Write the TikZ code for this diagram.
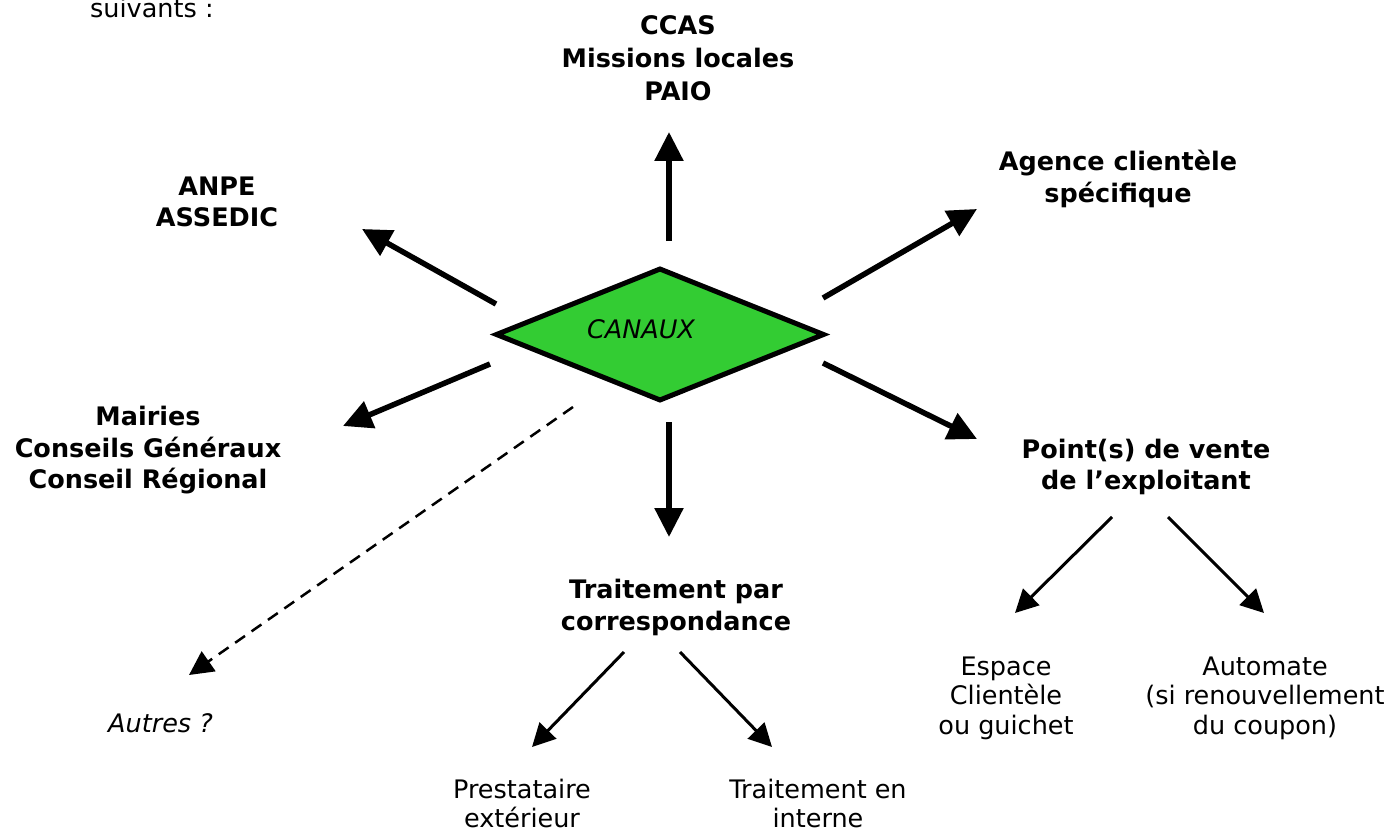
\documentclass[tikz,border=0pt]{standalone}
\usepackage{fontspec}
\setmainfont{DejaVu Sans}
\usetikzlibrary{arrows.meta,shapes.geometric}
\definecolor{canauxgreen}{RGB}{51,204,51}
\begin{document}
\begin{tikzpicture}[x=1pt,y=-1pt,
  boldlbl/.style={font=\fontsize{25.5}{31.5}\selectfont\bfseries, align=center, inner sep=0pt},
  reglbl/.style={font=\fontsize{25.5}{29.5}\selectfont, align=center, inner sep=0pt},
  itallbl/.style={font=\fontsize{25.5}{29.5}\selectfont\itshape, inner sep=0pt},
  thickarrow/.style={line width=5.5pt, -{Triangle[length=29pt,width=28pt]}},
  thinarrow/.style={line width=3pt, -{Triangle[length=23pt,width=23pt]}},
  dasharrow/.style={line width=2.5pt, dash pattern=on 12pt off 8pt, -{Triangle[length=24pt,width=24pt]}},
  canauxbox/.style={diamond, draw, line width=5pt, fill=canauxgreen, minimum width=329pt, minimum height=133pt, inner sep=0pt}
]
\useasboundingbox (0,0) rectangle (1393,832);

% central diamond
\node[canauxbox] (canaux) at (660,334.5) {};
\node[itallbl] (canauxtxt) at (641,329.5) {CANAUX};

% labels
\node[reglbl, anchor=base west] (suiv) at (90,17.5) {suivants :};
\node[boldlbl, font=\fontsize{25.5}{33}\selectfont\bfseries] (ccas) at (678,58) {CCAS\\Missions locales\\PAIO};
\node[boldlbl] (anpe) at (217,202) {ANPE\\ASSEDIC};
\node[boldlbl] (agence) at (1118,179) {Agence clientèle\\spécifique};
\node[boldlbl] (mairies) at (148,450.5) {Mairies\\Conseils Généraux\\Conseil Régional};
\node[boldlbl] (point) at (1146,467) {Point(s) de vente\\de l’exploitant};
\node[boldlbl] (corresp) at (676,607.5) {Traitement par\\correspondance};
\node[itallbl, anchor=base west] (autres) at (108,732) {Autres ?};
\node[reglbl] (presta) at (522,803.5) {Prestataire\\extérieur};
\node[reglbl] (interne) at (818,803.5) {Traitement en\\interne};
\node[reglbl] (espace) at (1006,698) {Espace\\Clientèle\\ou guichet};
\node[reglbl] (automate) at (1265,698) {Automate\\(si renouvellement\\du coupon)};

% connector end points
\coordinate (upS) at (669,241);
\coordinate (upE) at (669,132);
\coordinate (dnS) at (669,422);
\coordinate (dnE) at (669,537);
\coordinate (ulS) at (496,304);
\coordinate (ulE) at (362,229);
\coordinate (urS) at (823,298);
\coordinate (urE) at (977,209);
\coordinate (dlS) at (490,364);
\coordinate (dlE) at (343,426);
\coordinate (drS) at (823,363);
\coordinate (drE) at (977,439);
\coordinate (daS) at (573,407);
\coordinate (daE) at (189,675);
\coordinate (p1S) at (1112,517);
\coordinate (p1E) at (1015,613);
\coordinate (p2S) at (1168,517);
\coordinate (p2E) at (1264,613);
\coordinate (t1S) at (624,652);
\coordinate (t1E) at (532,747);
\coordinate (t2S) at (680,652);
\coordinate (t2E) at (772,747);

% connectors
\draw[thickarrow] (upS) -- (upE);
\draw[thickarrow] (dnS) -- (dnE);
\draw[thickarrow] (ulS) -- (ulE);
\draw[thickarrow] (urS) -- (urE);
\draw[thickarrow] (dlS) -- (dlE);
\draw[thickarrow] (drS) -- (drE);
\draw[dasharrow] (daS) -- (daE);
\draw[thinarrow] (p1S) -- (p1E);
\draw[thinarrow] (p2S) -- (p2E);
\draw[thinarrow] (t1S) -- (t1E);
\draw[thinarrow] (t2S) -- (t2E);
\end{tikzpicture}
\end{document}
